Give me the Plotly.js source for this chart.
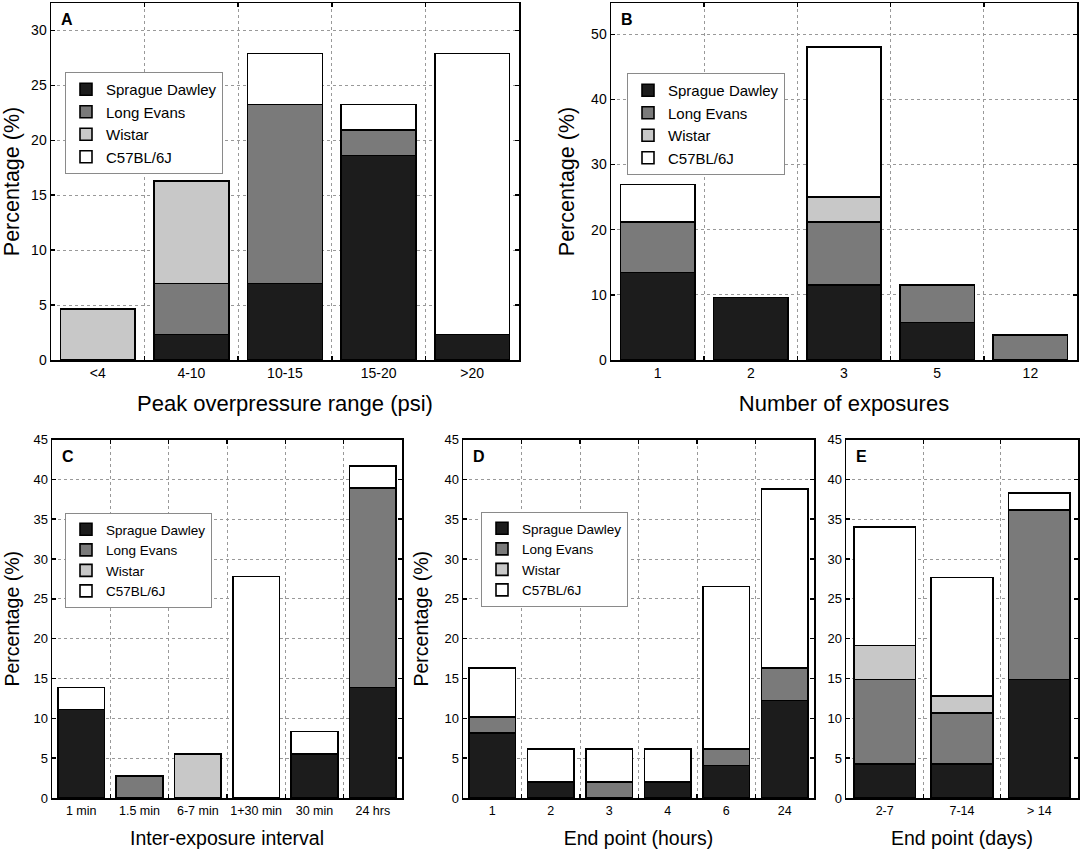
<!DOCTYPE html>
<html>
<head>
<meta charset="utf-8">
<script src="https://cdn.plot.ly/plotly-3.0.1.min.js"></script>
<style>html,body{margin:0;padding:0;background:#fff;}#chart{width:1084px;height:852px;}</style>
</head>
<body>
<div id="chart"></div>
<script>
// ---- data ----
const strains = ['Sprague Dawley', 'Long Evans', 'Wistar', 'C57BL/6J'];
const strainColors = ['#1c1c1c', '#7a7a7a', '#c8c8c8', '#ffffff'];

const catsA = ['<4', '4-10', '10-15', '15-20', '>20'];
const aSD = [null, 2.33, 6.98, 18.60, 2.33];
const aLE = [null, 4.65, 16.28, 2.33, null];
const aW  = [4.65, 9.30, null, null, null];
const aC  = [null, null, 4.65, 2.33, 25.58];

const catsB = ['1', '2', '3', '5', '12'];
const bSD = [13.46, 9.62, 11.54, 5.77, null];
const bLE = [7.69, null, 9.62, 5.77, 3.85];
const bW  = [null, null, 3.85, null, null];
const bC  = [5.77, null, 23.08, null, null];

const catsC = ['1 min', '1.5 min', '6-7 min', '1+30 min', '30 min', '24 hrs'];
const cSD = [11.11, null, null, null, 5.56, 13.89];
const cLE = [null, 2.78, null, null, null, 25.00];
const cW  = [null, null, 5.56, null, null, null];
const cC  = [2.78, null, null, 27.78, 2.78, 2.78];

const catsD = ['1', '2', '3', '4', '6', '24'];
const dSD = [8.16, 2.04, null, 2.04, 4.08, 12.24];
const dLE = [2.04, null, 2.04, null, 2.04, 4.08];
const dW  = [null, null, null, null, null, null];
const dC  = [6.12, 4.08, 4.08, 4.08, 20.41, 22.45];

const catsE = ['2-7', '7-14', '> 14'];
const eSD = [4.26, 4.26, 14.89];
const eLE = [10.64, 6.38, 21.28];
const eW  = [4.26, 2.13, null];
const eC  = [14.89, 14.89, 2.13];

// ---- build traces ----
const FONT = 'Arial, "Liberation Sans", sans-serif';
const traces = [];
function addPanel(cats, series, xa, ya, legendId) {
  series.forEach((vals, i) => {
    traces.push({
      type: 'bar',
      name: strains[i],
      x: cats,
      y: vals,
      xaxis: xa,
      yaxis: ya,
      legend: legendId || 'legend',
      showlegend: !!legendId,
      marker: { color: strainColors[i], line: { color: '#000', width: 1.6 } },
      hoverinfo: 'x+y+name'
    });
  });
}
addPanel(catsA, [aSD, aLE, aW, aC], 'x', 'y', 'legend');
addPanel(catsB, [bSD, bLE, bW, bC], 'x2', 'y2', 'legend2');
addPanel(catsC, [cSD, cLE, cW, cC], 'x3', 'y3', 'legend3');
addPanel(catsD, [dSD, dLE, dW, dC], 'x4', 'y4', 'legend4');
addPanel(catsE, [eSD, eLE, eW, eC], 'x5', 'y5', null);

const W = 1084, H = 852;
function dx(a, b) { return [a / W, b / W]; }
function dy(top, bottom) { return [1 - bottom / H, 1 - top / H]; }

function xAxis(domain, anchor, title, tfs, lfs, standoff) {
  return {
    type: 'category', domain: domain, anchor: anchor,
    showline: true, linecolor: '#000', linewidth: 1.5, mirror: 'ticks',
    ticks: 'inside', ticklen: 4, tickwidth: 1.5, tickcolor: '#000', tickson: 'boundaries',
    showgrid: true, gridcolor: '#999999', gridwidth: 1, griddash: 'dot',
    tickangle: 0,
    tickfont: { family: FONT, size: lfs, color: '#000' },
    title: { text: title, font: { family: FONT, size: tfs, color: '#000' }, standoff: standoff },
    fixedrange: true, automargin: false
  };
}
function yAxis(domain, anchor, range, dtick, title, tfs, lfs, standoff) {
  return {
    domain: domain, anchor: anchor, range: range, dtick: dtick, tick0: 0,
    showline: true, linecolor: '#000', linewidth: 1.5, mirror: 'ticks',
    ticks: 'inside', ticklen: 4, tickwidth: 1.5, tickcolor: '#000',
    showgrid: true, gridcolor: '#999999', gridwidth: 1, griddash: 'dot',
    zeroline: false,
    tickfont: { family: FONT, size: lfs, color: '#000' },
    title: { text: title, font: { family: FONT, size: tfs, color: '#000' }, standoff: standoff },
    fixedrange: true, automargin: false
  };
}
function legendAt(xpx, ypx, fs) {
  return {
    x: xpx / W, y: 1 - ypx / H, xanchor: 'left', yanchor: 'top',
    bgcolor: '#fff', bordercolor: '#8a8a8a', borderwidth: 1,
    traceorder: 'normal', tracegroupgap: 0,
    font: { family: FONT, size: fs, color: '#000' }
  };
}
function letter(t, xref, yref) {
  return {
    text: '<b>' + t + '</b>', xref: xref + ' domain', yref: yref + ' domain',
    x: 0, y: 1, xanchor: 'left', yanchor: 'top', xshift: 8, yshift: -6,
    showarrow: false, font: { family: FONT, size: 16, color: '#000' }
  };
}

const topY = dy(3, 360);
const botY = dy(439.5, 798);

const layout = {
  width: W, height: H,
  margin: { l: 0, r: 0, t: 0, b: 0 },
  paper_bgcolor: '#fff', plot_bgcolor: '#fff',
  barmode: 'stack', bargap: 0.2,
  font: { family: FONT, color: '#000' },
  xaxis:  xAxis(dx(51, 519), 'y', 'Peak overpressure range (psi)', 22, 14, 15),
  yaxis:  yAxis(topY, 'x', [0, 32.5], 5, 'Percentage (%)', 21.5, 14, 8),
  xaxis2: xAxis(dx(611, 1077), 'y2', 'Number of exposures', 22, 14, 15),
  yaxis2: yAxis(topY, 'x2', [0, 54.8], 10, 'Percentage (%)', 21.5, 14, 10),
  xaxis3: xAxis(dx(52, 402), 'y3', 'Inter-exposure interval', 19.5, 12.5, 15),
  yaxis3: yAxis(botY, 'x3', [0, 45], 5, 'Percentage (%)', 19.5, 13, 8),
  xaxis4: xAxis(dx(463, 814), 'y4', 'End point (hours)', 19.5, 12.5, 15),
  yaxis4: yAxis(botY, 'x4', [0, 45], 5, 'Percentage (%)', 19.5, 13, 10),
  xaxis5: xAxis(dx(846, 1078), 'y5', 'End point (days)', 19.5, 12.5, 15),
  yaxis5: yAxis(botY, 'x5', [0, 45], 5, '', 19.5, 13, 8),
  legend:  legendAt(65, 72, 15),
  legend2: legendAt(627, 73, 15),
  legend3: legendAt(65, 513, 13.5),
  legend4: legendAt(481, 512, 13.5),
  annotations: [
    letter('A', 'x', 'y'), letter('B', 'x2', 'y2'), letter('C', 'x3', 'y3'),
    letter('D', 'x4', 'y4'), letter('E', 'x5', 'y5')
  ]
};

Plotly.newPlot('chart', traces, layout, { displayModeBar: false, staticPlot: true });
</script>
</body>
</html>
